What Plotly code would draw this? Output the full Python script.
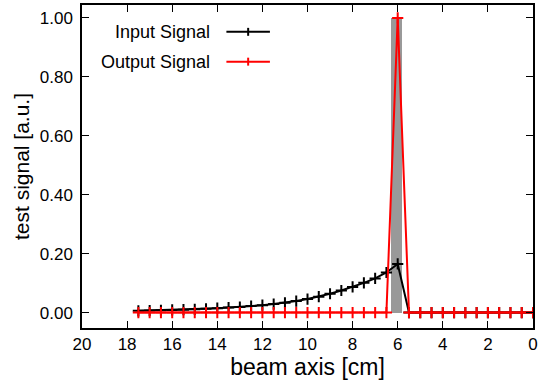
import plotly.graph_objects as go

# ---- data ----
positions = [17.5, 17.0, 16.5, 16.0, 15.5, 15.0, 14.5, 14.0, 13.5, 13.0, 12.5, 12.0,
             11.5, 11.0, 10.5, 10.0, 9.5, 9.0, 8.5, 8.0, 7.5, 7.0, 6.5, 6.0,
             5.5, 5.0, 4.5, 4.0, 3.5, 3.0, 2.5, 2.0, 1.5, 1.0, 0.5, 0.0]
input_signal = [0.006, 0.007, 0.008, 0.009, 0.010, 0.011, 0.013, 0.015, 0.017, 0.019, 0.022, 0.025,
                0.029, 0.033, 0.039, 0.046, 0.054, 0.064, 0.075, 0.087, 0.101, 0.116, 0.136, 0.165,
                0.0, 0.0, 0.0, 0.0, 0.0, 0.0, 0.0, 0.0, 0.0, 0.0, 0.0, 0.0]
output_signal = [0.0] * 23 + [1.0] + [0.0] * 12
region_center = [6.05]
region_height = [1.0]
region_width = [0.5]

x_ticks = [20, 18, 16, 14, 12, 10, 8, 6, 4, 2, 0]
y_ticks = [0.0, 0.2, 0.4, 0.6, 0.8, 1.0]

FONT = "Liberation Sans, Arial, sans-serif"

fig = go.Figure()
fig.add_trace(go.Bar(x=region_center, y=region_height, width=region_width,
                     marker=dict(color="#999999", line=dict(width=0)),
                     showlegend=False))
fig.add_trace(go.Scatter(x=positions, y=input_signal, mode="lines+markers",
                         line=dict(color="black", width=2),
                         marker=dict(symbol="cross-thin-open", size=8,
                                     line=dict(color="black", width=2)),
                         name="Input Signal", showlegend=False))
fig.add_trace(go.Scatter(x=positions, y=output_signal, mode="lines+markers",
                         line=dict(color="#ff0000", width=2),
                         marker=dict(symbol="cross-thin-open", size=8,
                                     line=dict(color="#ff0000", width=2)),
                         name="Output Signal", showlegend=False))

# legend drawn gnuplot-style (text left, sample right)
W, H, L, T = 456, 325, 82, 3
def px(x):
    return (x - L) / W
def py(y):
    return (T + H - y) / H

legend_items = [("Input Signal", "black", 30), ("Output Signal", "#ff0000", 60)]
for label, col, yy in legend_items:
    fig.add_annotation(text=label, xref="paper", yref="paper", x=px(213), y=py(yy),
                       xanchor="right", yanchor="middle", showarrow=False,
                       font=dict(family=FONT, size=18, color="black"))
    fig.add_shape(type="line", xref="paper", yref="paper", x0=px(228), x1=px(272),
                  y0=py(yy), y1=py(yy), line=dict(color=col, width=2))
    fig.add_shape(type="line", xref="paper", yref="paper", x0=px(250), x1=px(250),
                  y0=py(yy - 4), y1=py(yy + 4), line=dict(color=col, width=2))

fig.update_layout(
    width=541, height=385,
    margin=dict(l=82, r=3, t=3, b=57),
    plot_bgcolor="white", paper_bgcolor="white",
    font=dict(family=FONT, size=17, color="black"),
    bargap=0,
)
fig.update_xaxes(range=[20, 0], tickvals=x_ticks, ticktext=[str(v) for v in x_ticks],
                 ticks="inside", ticklen=7, tickwidth=1.2, tickcolor="black",
                 showline=True, linecolor="black", linewidth=1.5, mirror="allticks",
                 showgrid=False, zeroline=False,
                 title=dict(text="beam axis [cm]", font=dict(size=23), standoff=3),
                 tickfont=dict(size=17))
fig.update_yaxes(range=[-0.0523, 1.0438], tickvals=y_ticks, tickformat=".2f",
                 ticks="inside", ticklen=7, tickwidth=1.2, tickcolor="black",
                 showline=True, linecolor="black", linewidth=1.5, mirror="allticks",
                 showgrid=False, zeroline=False,
                 title=dict(text="test signal [a.u.]", font=dict(size=21), standoff=4),
                 tickfont=dict(size=17), ticklabelstandoff=4)

fig.write_html("out.html")
